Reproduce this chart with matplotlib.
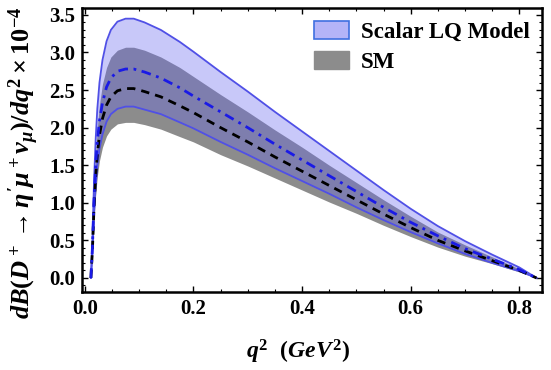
import matplotlib
matplotlib.use("Agg")
import matplotlib.pyplot as plt
from matplotlib.patches import Patch
from matplotlib.ticker import MultipleLocator, FormatStrFormatter

plt.rcParams['font.family'] = ['Liberation Serif', 'DejaVu Serif']
plt.rcParams['font.weight'] = 'bold'
plt.rcParams['mathtext.fontset'] = 'custom'
plt.rcParams['mathtext.it'] = 'Liberation Serif:italic:bold'
plt.rcParams['mathtext.rm'] = 'Liberation Serif:bold'
plt.rcParams['mathtext.bf'] = 'Liberation Serif:bold'

q2 = [0.0112, 0.014, 0.017, 0.020, 0.023, 0.027, 0.0325, 0.04, 0.048, 0.06,
      0.075, 0.09, 0.11, 0.14, 0.175, 0.2, 0.25, 0.3, 0.35, 0.4, 0.45, 0.5,
      0.55, 0.6, 0.65, 0.7, 0.75, 0.8, 0.8316]

lq_upper = [0, 0.5, 1.3, 1.85, 2.25, 2.6, 2.9, 3.15, 3.3, 3.41, 3.45, 3.45, 3.4,
            3.3, 3.14, 3.01, 2.74, 2.48, 2.21, 1.95, 1.69, 1.43, 1.17, 0.92,
            0.69, 0.49, 0.31, 0.14, 0.0]
sm_upper = [0, 0.45, 1.16, 1.65, 2.0, 2.31, 2.58, 2.8, 2.94, 3.03, 3.07, 3.07, 3.03,
            2.94, 2.8, 2.68, 2.44, 2.21, 1.97, 1.74, 1.5, 1.27, 1.04, 0.82, 0.61,
            0.44, 0.28, 0.12, 0]
lq_central = [0, 0.4, 1.05, 1.49, 1.81, 2.09, 2.33, 2.54, 2.66, 2.75, 2.78, 2.78,
              2.74, 2.66, 2.53, 2.42, 2.21, 2.0, 1.78, 1.57, 1.36, 1.15, 0.94, 0.74,
              0.56, 0.39, 0.25, 0.11, 0]
sm_central = [0, 0.37, 0.95, 1.35, 1.64, 1.9, 2.12, 2.3, 2.41, 2.49, 2.52, 2.52,
              2.48, 2.41, 2.29, 2.2, 2.0, 1.81, 1.61, 1.42, 1.23, 1.04, 0.85, 0.67,
              0.5, 0.36, 0.23, 0.1, 0]
lq_lower = [0, 0.33, 0.86, 1.22, 1.49, 1.72, 1.91, 2.08, 2.18, 2.25, 2.28, 2.28,
            2.24, 2.18, 2.07, 1.99, 1.81, 1.64, 1.46, 1.29, 1.12, 0.94, 0.77, 0.61,
            0.46, 0.32, 0.2, 0.09, 0]
sm_lower = [0, 0.3, 0.78, 1.11, 1.35, 1.56, 1.74, 1.89, 1.98, 2.05, 2.07, 2.07,
            2.04, 1.98, 1.88, 1.81, 1.64, 1.49, 1.33, 1.17, 1.01, 0.86, 0.7, 0.55,
            0.41, 0.29, 0.19, 0.08, 0]

fig = plt.figure(figsize=(5.51, 3.70), dpi=100)
ax = fig.add_axes([0.149, 0.211, 0.835, 0.767])

ax.fill_between(q2, sm_lower, sm_upper, color='#8c8c8c', lw=0, zorder=1)
ax.fill_between(q2, lq_lower, lq_upper, color='#6464f0', alpha=0.35, lw=0, zorder=2)
ax.plot(q2, lq_upper, color='#5050e6', lw=1.3, zorder=3)
ax.plot(q2, lq_lower, color='#5050e6', lw=1.3, zorder=3)
ax.plot(q2, sm_central, color='black', lw=2.0, ls=(0, (3, 2.2)), zorder=4)
ax.plot(q2, lq_central, color='#1a1ae6', lw=2.0, ls=(0, (3.5, 2, 1, 2)), zorder=4)

ax.set_xlim(-0.005, 0.842)
ax.set_ylim(-0.186, 3.59)
ax.xaxis.set_major_locator(MultipleLocator(0.2))
ax.xaxis.set_minor_locator(MultipleLocator(0.05))
ax.yaxis.set_major_locator(MultipleLocator(0.5))
ax.yaxis.set_minor_locator(MultipleLocator(0.1))
ax.xaxis.set_major_formatter(FormatStrFormatter('%.1f'))
ax.yaxis.set_major_formatter(FormatStrFormatter('%.1f'))
ax.tick_params(which='both', direction='in', top=True, right=True, labelsize=15)
ax.tick_params(which='major', length=4, width=1, pad=5)
ax.tick_params(which='minor', length=2, width=0.8)
for s in ax.spines.values():
    s.set_linewidth(1.8)

ax.set_xlabel(r'$q^2\ \ (GeV^2)$', fontsize=17)
ax.xaxis.set_label_coords(0.47, -0.16)
ax.set_ylabel(r"$dB(D^+ \rightarrow \eta' \mu^+ \nu_\mu)/dq^2 \times 10^{-4}$",
              fontsize=19)
ax.yaxis.set_label_coords(-0.09, 0.455)

handles = [Patch(facecolor='#b4b4f8', edgecolor='#4070e0', lw=1.2, label='Scalar LQ Model'),
           Patch(facecolor='#8c8c8c', edgecolor='#8c8c8c', label='SM')]
ax.legend(handles=handles, loc='upper right', frameon=False,
          handlelength=1.55, handleheight=0.85, handletextpad=0.5,
          borderaxespad=0.15, labelspacing=0.35,
          prop={'weight': 'bold', 'size': 16.5})

fig.savefig('out.png', dpi=100)
